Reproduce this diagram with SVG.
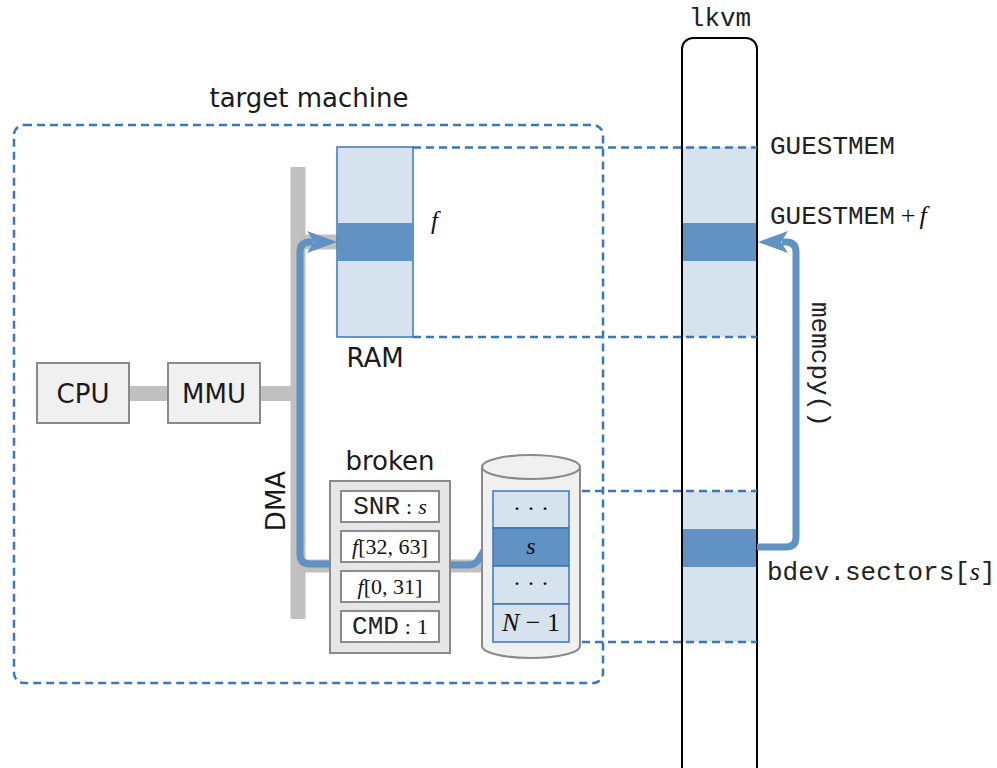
<svg xmlns="http://www.w3.org/2000/svg" width="997" height="768" viewBox="0 0 997 768">
<style>
.sans{font-family:"DejaVu Sans","Liberation Sans",sans-serif;font-size:26px;fill:#1a1a1a}
.mono{font-family:"Liberation Mono","DejaVu Sans Mono",monospace;font-size:26px;fill:#222}
.serif{font-family:"Liberation Serif","DejaVu Serif",serif;fill:#111}
.it{font-style:italic}
.dash{fill:none;stroke:#3a77bd;stroke-width:2.5;stroke-dasharray:8 5}
.gbox{fill:#f0f0f0;stroke:#8a8a8a;stroke-width:2}
.reg{fill:#fff;stroke:#8a8a8a;stroke-width:2}
.light{fill:#d6e3ef}
.dark{fill:#6092c4}
.cell{stroke:#3a77bd;stroke-width:1.5}
.bus{stroke:#c0c0c0;fill:none}
.flow{fill:none;stroke:#6092c4;stroke-width:7}
</style>
<defs>
<marker id="ah" markerUnits="userSpaceOnUse" markerWidth="30" markerHeight="22" viewBox="0 0 30 22" refX="6" refY="11" orient="auto">
<path d="M0,0 L30,11 L0,22 L7,11 Z" fill="#6092c4"/>
</marker>
</defs>

<!-- target machine frame -->
<g id="target-machine">
<rect x="14" y="125" width="589" height="558" rx="10" class="dash"/>
<text x="309" y="107" text-anchor="middle" class="sans">target machine</text>
</g>

<!-- lkvm -->
<g id="lkvm">
<rect x="682" y="38" width="75" height="760" rx="11" fill="#fff"/>
<rect x="683" y="147" width="73" height="190" class="light"/>
<rect x="683" y="223" width="73" height="38" class="dark"/>
<rect x="683" y="491" width="73" height="151" class="light"/>
<rect x="683" y="529" width="73" height="38" class="dark"/>
<rect x="682" y="38" width="75" height="760" rx="11" fill="none" stroke="#000" stroke-width="2"/>
<text x="720" y="26" text-anchor="middle" class="mono">lkvm</text>
<text x="770" y="154" class="mono">GUESTMEM</text>
<text x="770" y="224"><tspan class="mono">GUESTMEM</tspan><tspan class="serif" font-size="26" dx="6">+</tspan><tspan class="serif it" font-size="26" dx="4">f</tspan></text>
<text x="767" y="580"><tspan class="mono">bdev.sectors[</tspan><tspan class="serif it" font-size="26">s</tspan><tspan class="mono">]</tspan></text>
</g>

<!-- connectors -->
<g id="connectors">
<line x1="298" y1="167" x2="298" y2="619" class="bus" stroke-width="15"/>
<line x1="129" y1="393.5" x2="168" y2="393.5" class="bus" stroke-width="15"/>
<line x1="260" y1="393.5" x2="291" y2="393.5" class="bus" stroke-width="15"/>
<line x1="305" y1="242" x2="337" y2="242" class="bus" stroke-width="15"/>
<line x1="305" y1="566" x2="330" y2="566" class="bus" stroke-width="13"/>
<line x1="450" y1="566" x2="482" y2="566" class="bus" stroke-width="13"/>
<line x1="413" y1="147.5" x2="757" y2="147.5" class="dash" stroke-width="2"/>
<line x1="413" y1="337" x2="757" y2="337" class="dash" stroke-width="2"/>
<line x1="569" y1="491" x2="757" y2="491" class="dash" stroke-width="2"/>
<line x1="569" y1="642" x2="757" y2="642" class="dash" stroke-width="2"/>
<path d="M330,564 L310,564 Q300,564 300,554 L300,252 Q300,242 310,242 L313,242" class="flow" marker-end="url(#ah)"/>
<path d="M450,565 L468,565 C484,565 478,546 494,546" class="flow" stroke-width="6"/>
<path d="M757,547 L786,547 Q796,547 796,537 L796,252 Q796,242 786,242 L782,242" class="flow" marker-end="url(#ah)"/>
<text transform="translate(812,302) rotate(90)" class="mono">memcpy()</text>
<text transform="translate(285,501) rotate(-90)" text-anchor="middle" class="sans">DMA</text>
</g>

<!-- CPU -->
<g id="cpu">
<rect x="37" y="363" width="92" height="60" class="gbox"/>
<text x="83" y="403" text-anchor="middle" class="sans">CPU</text>
</g>

<!-- MMU -->
<g id="mmu">
<rect x="168" y="363" width="92" height="60" class="gbox"/>
<text x="214" y="403" text-anchor="middle" class="sans">MMU</text>
</g>

<!-- RAM -->
<g id="ram">
<rect x="337" y="147" width="76" height="190" class="light cell"/>
<rect x="337" y="223" width="76" height="38" class="dark"/>
<text x="431" y="229" class="serif it" font-size="25">f</text>
<text x="375" y="367" text-anchor="middle" class="sans">RAM</text>
</g>

<!-- broken device -->
<g id="broken">
<rect x="330" y="481" width="120" height="172" fill="#e6e6e6" stroke="#8a8a8a" stroke-width="2"/>
<text x="390" y="470" text-anchor="middle" class="sans" font-size="25">broken</text>
<rect x="341" y="491" width="98" height="31" class="reg"/>
<rect x="341" y="531" width="98" height="31" class="reg"/>
<rect x="341" y="571" width="98" height="31" class="reg"/>
<rect x="341" y="611" width="98" height="31" class="reg"/>
<text x="390" y="514" text-anchor="middle"><tspan class="mono" font-size="17">SNR</tspan><tspan class="serif" font-size="22" dx="6">:</tspan><tspan class="serif it" font-size="22" dx="6">s</tspan></text>
<text x="390" y="554" text-anchor="middle" class="serif" font-size="22"><tspan class="it">f</tspan>[32, 63]</text>
<text x="390" y="594" text-anchor="middle" class="serif" font-size="22"><tspan class="it">f</tspan>[0, 31]</text>
<text x="390" y="634" text-anchor="middle"><tspan class="mono" font-size="17">CMD</tspan><tspan class="serif" font-size="22" dx="6">:</tspan><tspan class="serif" font-size="22" dx="6">1</tspan></text>
</g>

<!-- disk -->
<g id="disk">
<path d="M482,467 L482,646 A49,12 0 0 0 580,646 L580,467 Z" fill="#f0f0f0" stroke="#8a8a8a" stroke-width="2"/>
<ellipse cx="531" cy="467" rx="49" ry="12" fill="#f0f0f0" stroke="#8a8a8a" stroke-width="2"/>
<rect x="493" y="491" width="76" height="37" class="light cell"/>
<rect x="493" y="528" width="76" height="38" class="dark cell"/>
<rect x="493" y="566" width="76" height="38" class="light cell"/>
<rect x="493" y="604" width="76" height="38" class="light cell"/>
<text x="531" y="516" text-anchor="middle" class="serif" font-size="24">· · ·</text>
<text x="531" y="554" text-anchor="middle" class="serif it" font-size="24">s</text>
<text x="531" y="591" text-anchor="middle" class="serif" font-size="24">· · ·</text>
<text x="531" y="631" text-anchor="middle" class="serif" font-size="26"><tspan class="it">N</tspan> − 1</text>
</g>
</svg>
